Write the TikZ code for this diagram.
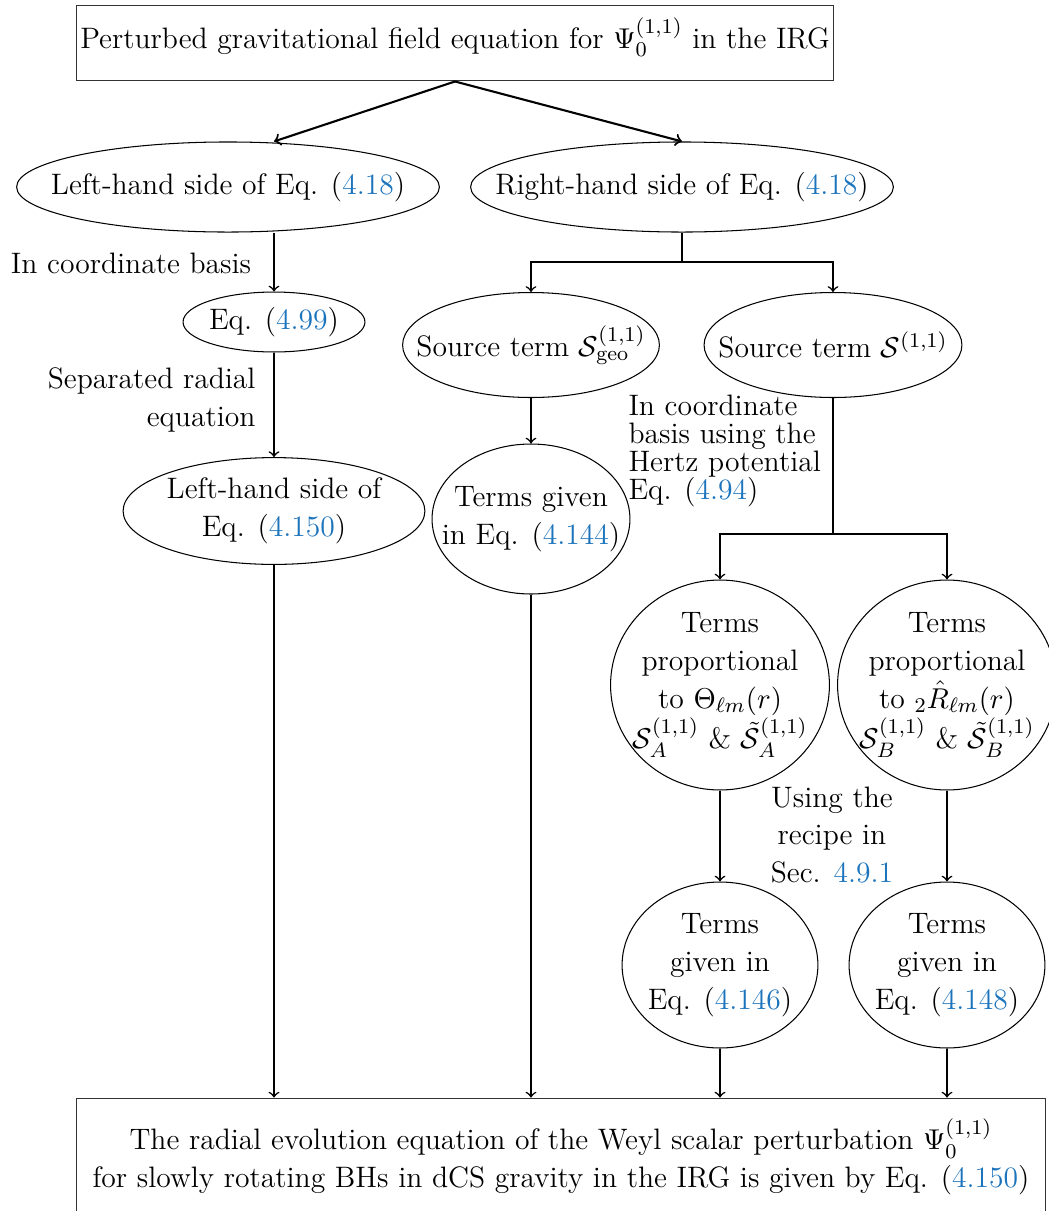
\documentclass[tikz,border=0pt]{standalone}
\usepackage{amsmath}
\usepackage{amssymb}
\usepackage{xcolor}
\usepackage{tikz}
\usetikzlibrary{shapes.geometric}
\definecolor{reflink}{RGB}{28,116,188}
\newcommand{\refnum}[1]{\textcolor{reflink}{#1}}

\begin{document}
\begin{tikzpicture}[x=0.382pt,y=0.382pt,yscale=-1,xscale=1,
	font=\fontsize{11.3}{14.5}\selectfont,
	oval/.style={draw,ellipse,line width=0.4pt,inner sep=-20pt,align=center},
	boxed/.style={draw=black!80,rectangle,line width=0.4pt,inner xsep=1.5pt,align=center},
	flow/.style={->,line width=0.6pt},
	edge/.style={line width=0.6pt},
	note/.style={inner sep=0pt}]
				\useasboundingbox (0,0) rectangle (1049,1211);
				
				%Shape: Rectangle [id:top]
				\node[boxed,minimum width=288.5pt,minimum height=29pt,text depth=7.5pt] (field) at (455,43) {Perturbed gravitational field equation for $\Psi_0^{(1,1)}$ in the IRG};
				
				%Shape: Ellipse [id:lhs]
				\node[oval,minimum width=161.5pt,minimum height=34.4pt] (lhs) at (228,187) {Left-hand side of Eq. (\refnum{4.18})};
				%Shape: Ellipse [id:rhs]
				\node[oval,minimum width=161.5pt,minimum height=34.4pt] (rhs) at (682,187) {Right-hand side of Eq. (\refnum{4.18})};
				
				%Shape: Ellipse [id:eq99]
				\node[oval,minimum width=69.5pt,minimum height=22.9pt] (eq99) at (274,322) {Eq. (\refnum{4.99})};
				%Shape: Ellipse [id:lhs150]
				\node[oval,minimum width=115.3pt,minimum height=40.8pt] (lhs150) at (274,511) {Left-hand side of\\Eq. (\refnum{4.150})};
				
				%Shape: Ellipse [id:sgeo]
				\node[oval,minimum width=98.1pt,minimum height=40.1pt] (sgeo) at (531,345) {Source term $\mathcal{S}_{\text{geo}}^{(1,1)}$};
				%Shape: Ellipse [id:src]
				\node[oval,minimum width=98.5pt,minimum height=40.1pt] (src) at (833,345) {Source term $\mathcal{S}^{(1,1)}$};
				%Shape: Ellipse [id:t144]
				\node[oval,minimum width=75.6pt,minimum height=57.3pt] (t144) at (531,519) {Terms given\\in Eq. (\refnum{4.144})};
				
				%Shape: Circle [id:circA]
				\node[oval,minimum width=83.6pt,minimum height=80.2pt] (circA) at (720,685) {Terms\\proportional\\to $\Theta_{\ell m}(r)$\\$\mathcal{S}_A^{(1,1)}$ \& $\tilde{\mathcal{S}}_A^{(1,1)}$};
				%Shape: Circle [id:circB]
				\node[oval,minimum width=83.6pt,minimum height=80.2pt] (circB) at (947,685) {Terms\\proportional\\to ${}_2\hat{R}_{\ell m}(r)$\\$\mathcal{S}_B^{(1,1)}$ \& $\tilde{\mathcal{S}}_B^{(1,1)}$};
				
				%Shape: Ellipse [id:t146]
				\node[oval,minimum width=74.8pt,minimum height=63.4pt] (t146) at (720,965) {Terms\\given in\\Eq. (\refnum{4.146})};
				%Shape: Ellipse [id:t148]
				\node[oval,minimum width=74.8pt,minimum height=63.4pt] (t148) at (947,965) {Terms\\given in\\Eq. (\refnum{4.148})};
				
				%Shape: Rectangle [id:result]
				\node[boxed,minimum width=369.8pt,minimum height=45pt] (result) at (561,1157) {The radial evolution equation of the Weyl scalar perturbation $\Psi_0^{(1,1)}$\\for slowly rotating BHs in dCS gravity in the IRG is given by Eq. (\refnum{4.150})};
				
				% Text Node
				\node[note] (basis) at (131,263) {In coordinate basis};
				\node[note,anchor=east,align=right] (sepeq) at (256,400) {Separated radial\\equation};
				\node[note,anchor=west,align=left,font=\fontsize{11.3}{10.8}\selectfont] (hertz) at (628,451) {In coordinate\\basis using the\\Hertz potential\\Eq. (\refnum{4.94})};
				\node[note,align=center] (recipe) at (832,835) {Using the\\recipe in\\Sec. \refnum{4.9.1}};
				
				%Straight Lines
				\coordinate (split1) at (682,262);
				\coordinate (split2) at (833,534);
				\draw[flow,line width=0.8pt] (field.south) -- (lhs.north -| eq99);
				\draw[flow,line width=0.8pt] (field.south) -- (rhs.north);
				\draw[flow] (lhs.south -| eq99) -- (eq99.north);
				\draw[flow] (eq99.south) -- (lhs150.north);
				\draw[edge] (rhs.south) -- (split1);
				\draw[flow] (split1) -| (sgeo.north);
				\draw[flow] (split1) -| (src.north);
				\draw[flow] (sgeo.south) -- (t144.north);
				\draw[edge] (src.south) -- (split2);
				\draw[flow] (split2) -| (circA.north);
				\draw[flow] (split2) -| (circB.north);
				\draw[flow] (circA.south) -- (t146.north);
				\draw[flow] (circB.south) -- (t148.north);
				\draw[flow] (lhs150.south) -- (lhs150.south |- result.north);
				\draw[flow] (t144.south) -- (t144.south |- result.north);
				\draw[flow] (t146.south) -- (t146.south |- result.north);
				\draw[flow] (t148.south) -- (t148.south |- result.north);
				
\end{tikzpicture}
\end{document}
